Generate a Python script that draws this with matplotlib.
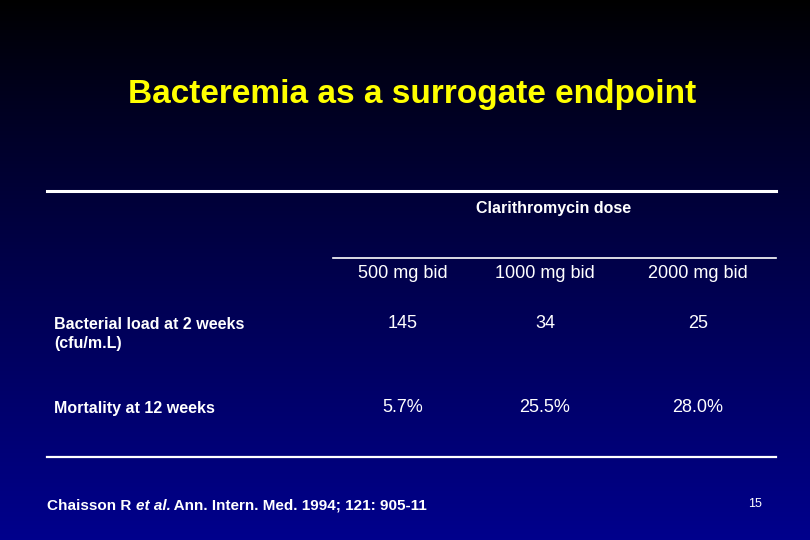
import numpy as np
import matplotlib
matplotlib.use('Agg')
import matplotlib.pyplot as plt
from matplotlib import font_manager

names = sorted({f.name for f in font_manager.fontManager.ttflist})
fam = next((n for n in names if 'Liberation Sans' in n and 'Narrow' not in n),
           'DejaVu Sans')
plt.rcParams['font.family'] = [fam, 'DejaVu Sans']

title = "Bacteremia as a surrogate endpoint"
group_label = "Clarithromycin dose"
doses = ["500 mg bid", "1000 mg bid", "2000 mg bid"]
row_labels = ["Bacterial load at 2 weeks\n(cfu/m.L)", "Mortality at 12 weeks"]
bacterial_load = ["145", "34", "25"]
mortality = ["5.7%", "25.5%", "28.0%"]
page_no = "15"

W, H = 810, 540
fig = plt.figure(figsize=(W / 100, H / 100), dpi=100)
bg = fig.add_axes([0, 0, 1, 1])
bg.set_xlim(0, W)
bg.set_ylim(H, 0)
bg.axis('off')

# vertical gradient: black on top to dark blue at bottom
grad = np.linspace(0, 1, 256)[:, None]
top = np.array([0.0, 0.0, 0.0])
bot = np.array([0.0, 0.0, 0.55])
img = top + (bot - top) * grad[..., None] ** 0.9
bg.imshow(img, extent=[0, W, H, 0], aspect='auto', zorder=0)

bg.text(412, 94, title, color='#ffff00', fontsize=24, fontweight='bold',
        ha='center', va='center')

bg.plot([47, 776], [191, 191], color='white', lw=2.2)
bg.plot([333, 776], [258, 258], color='white', lw=1.2)
bg.plot([47, 776], [457, 457], color='white', lw=1.6)

bg.text(554, 208, group_label, color='white', fontsize=11.5, fontweight='bold',
        ha='center', va='center')

col_x = [403, 545, 698]
for x, d in zip(col_x, doses):
    bg.text(x, 273, d, color='white', fontsize=13, ha='center', va='center')

bg.text(54, 334, row_labels[0], color='white', fontsize=11.5, fontweight='bold',
        ha='left', va='center', linespacing=1.3)
bg.text(54, 408, row_labels[1], color='white', fontsize=11.5, fontweight='bold',
        ha='left', va='center')
for x, a, b in zip(col_x, bacterial_load, mortality):
    bg.text(x, 323, a, color='white', fontsize=13, ha='center', va='center')
    bg.text(x, 408, b, color='white', fontsize=13, ha='center', va='center')

# citation with italic part, drawn piecewise
pieces = [("Chaisson R ", 'normal'), ("et al.", 'italic'),
          (" Ann. Intern. Med. 1994; 121: 905-11", 'normal')]
fig.canvas.draw()
r = fig.canvas.get_renderer()
x = 47
for s, style in pieces:
    t = bg.text(x, 506, s, color='white', fontsize=11, fontweight='bold',
                style=style, ha='left', va='center')
    ext = t.get_window_extent(r)
    x += ext.width

bg.text(755, 504, page_no, color='white', fontsize=9, ha='center', va='center')

fig.savefig('out.png', dpi=100)
